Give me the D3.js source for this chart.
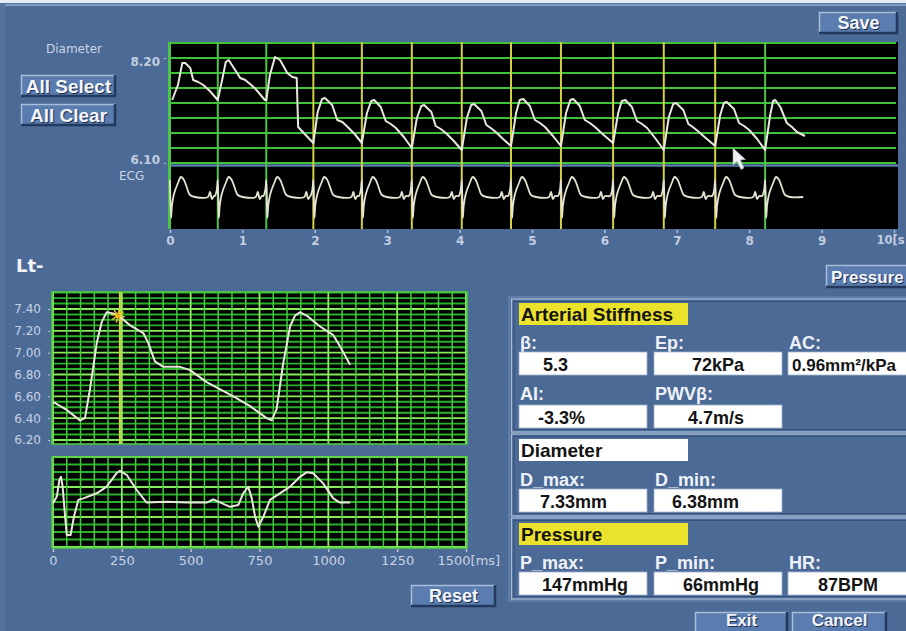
<!DOCTYPE html>
<html><head><meta charset="utf-8">
<script src="https://cdn.jsdelivr.net/npm/d3@7"></script>
<style>
html,body{margin:0;padding:0;background:#4b6a96;overflow:hidden}
svg{display:block}
</style></head><body>
<svg id="c" width="906" height="631"></svg>
<script>
// ---------------- DATA ----------------
// Top trend (10 s): diameter [mm] and ECG
const trendTimeTicks = [0,1,2,3,4,5,6,7,8,9,10];
const trendDiamLabels = [8.20, 6.10];
const trendDiamGrid = [8.50,8.20,7.90,7.60,7.30,7.00,6.70,6.40,6.10];
const beatTimes = [0.00,0.66,1.33,1.98,2.65,3.34,4.03,4.71,5.40,6.12,6.82,7.53,8.22];
const beatSelected = [false,false,false,true,true,true,true,true,true,true,true,true,false];
const trendDiameter = [
 [0.03,7.36],[0.11,7.66],[0.17,8.10],[0.21,8.10],[0.28,8.00],[0.32,7.76],[0.39,7.72],[0.46,7.66],[0.55,7.54],[0.66,7.36],
 [0.72,7.76],[0.77,8.12],[0.81,8.16],[0.90,7.96],[0.97,7.80],[1.04,7.76],[1.17,7.60],[1.31,7.36],
 [1.33,7.36],[1.38,7.86],[1.45,8.22],[1.52,8.16],[1.62,7.90],[1.69,7.82],[1.75,7.80],[1.77,6.82],[1.86,6.68],[1.98,6.50],
 [2.04,7.12],[2.10,7.38],[2.14,7.40],[2.24,7.26],[2.31,6.96],[2.38,6.92],[2.44,6.84],[2.55,6.68],[2.65,6.50],
 [2.72,7.10],[2.78,7.34],[2.82,7.36],[2.91,7.22],[2.98,6.94],[3.05,6.88],[3.12,6.80],[3.23,6.62],[3.34,6.40],
 [3.41,7.00],[3.47,7.24],[3.51,7.26],[3.61,7.12],[3.67,6.84],[3.74,6.78],[3.81,6.70],[3.92,6.54],[4.03,6.36],
 [4.10,7.00],[4.16,7.26],[4.20,7.28],[4.30,7.14],[4.37,6.86],[4.43,6.80],[4.50,6.72],[4.60,6.58],[4.71,6.44],
 [4.78,7.10],[4.83,7.36],[4.88,7.38],[4.97,7.24],[5.04,6.96],[5.11,6.90],[5.18,6.82],[5.29,6.64],[5.40,6.44],
 [5.47,7.10],[5.53,7.36],[5.57,7.38],[5.66,7.24],[5.73,6.96],[5.80,6.90],[5.87,6.82],[5.99,6.66],[6.12,6.50],
 [6.19,7.10],[6.24,7.34],[6.29,7.36],[6.38,7.22],[6.45,6.94],[6.52,6.88],[6.59,6.80],[6.70,6.60],[6.82,6.36],
 [6.89,7.02],[6.95,7.28],[6.99,7.30],[7.09,7.16],[7.16,6.88],[7.22,6.82],[7.29,6.74],[7.40,6.60],[7.53,6.44],
 [7.60,7.06],[7.65,7.30],[7.69,7.32],[7.79,7.18],[7.86,6.90],[7.93,6.84],[8.00,6.76],[8.11,6.58],[8.22,6.36],
 [8.29,7.06],[8.33,7.34],[8.36,7.36],[8.43,7.22],[8.52,6.90],[8.59,6.82],[8.66,6.72],[8.77,6.64]
];
// ECG shape of one beat: [seconds after R, value]
const ecgBeatShape = [
 [-0.041,0.05],[-0.014,0.35],[0.000,0.85],[0.014,-1.05],[0.028,-0.40],[0.055,0.15],[0.110,0.70],
 [0.152,1.00],[0.193,0.85],[0.235,0.45],[0.276,0.10],[0.345,0.00],[0.525,0.00],[0.552,0.25],
 [0.580,-0.10],[0.608,0.05]
];
const trendEcgEnd = 8.77;

// Averaged single beat (0-1500 ms)
const waveMsTicks = [0,250,500,750,1000,1250,1500];
const waveDiamTicks = [7.40,7.20,7.00,6.80,6.60,6.40,6.20];
const waveDiameter = [
 [0,6.55],[50,6.475],[98,6.38],[116,6.40],[134,6.66],[159,7.09],[177,7.28],[195,7.37],[219,7.36],
 [243,7.33],[280,7.25],[328,7.18],[346,7.09],[370,6.92],[401,6.87],[461,6.87],[498,6.84],[558,6.73],
 [655,6.60],[716,6.51],[776,6.40],[794,6.38],[812,6.48],[836,6.90],[861,7.24],[879,7.34],[897,7.37],
 [921,7.34],[970,7.24],[1018,7.16],[1042,7.06],[1079,6.89]
];
const waveEcg = [
 [0,-0.04],[14,0.18],[23,0.73],[29,0.84],[35,0.51],[44,-0.49],[50,-1.10],[64,-1.10],[76,-0.49],
 [92,0.07],[110,0.12],[159,0.29],[195,0.51],[231,0.96],[243,1.04],[268,0.90],[304,0.40],[340,-0.02],
 [413,0.01],[486,-0.02],[558,-0.02],[582,0.09],[600,0.01],[643,-0.16],[673,-0.10],[691,0.29],
 [709,0.51],[722,0.12],[734,-0.49],[746,-0.82],[764,-0.49],[788,0.07],[824,0.29],[861,0.51],
 [897,0.84],[921,0.99],[945,0.96],[981,0.62],[1018,0.12],[1042,-0.02],[1079,-0.02]
];
const cursorMs = 243, cursorDiam = 7.33;

// Results
const stiffLabels = ["β:","Ep:","AC:","AI:","PWVβ:"];
const stiffValues = ["5.3","72kPa","0.96mm²/kPa","-3.3%","4.7m/s"];
const diamLabels = ["D_max:","D_min:"];
const diamValues = ["7.33mm","6.38mm"];
const presLabels = ["P_max:","P_min:","HR:"];
const presValues = ["147mmHg","66mmHg","87BPM"];

// ---------------- DRAW ----------------
const UI = "'Liberation Sans', Arial, Helvetica, sans-serif";
const LB = "'DejaVu Sans', Verdana, sans-serif";
const BG = "#4b6a96";
const svg = d3.select("#c");
svg.append("rect").attr("width",906).attr("height",631).attr("fill",BG);
svg.append("rect").attr("width",906).attr("height",3).attr("fill","#e6ecf4");
svg.append("line").attr("x1",0).attr("x2",906).attr("y1",5).attr("y2",5).attr("stroke","#7e99c3").attr("stroke-width",2.5);
svg.append("rect").attr("x",0).attr("y",3).attr("width",5).attr("height",628).attr("fill","#55739f");

function button(x,y,w,h,label,fs,anchor,tyOverride){
  const g = svg.append("g");
  g.append("rect").attr("x",x).attr("y",y).attr("width",w).attr("height",h).attr("fill","#5a7cae");
  g.append("path").attr("d",`M${x+0.5},${y+h}V${y+0.5}H${x+w}`).attr("fill","none").attr("stroke","#a9bedb").attr("stroke-width",1.5);
  g.append("path").attr("d",`M${x},${y+h-1}H${x+w-1}V${y}`).attr("fill","none").attr("stroke","#233a5e").attr("stroke-width",2.5);
  const tx0 = anchor==="start" ? x+5 : x+w/2;
  const ty0 = tyOverride || (y+h/2+fs*0.36);
  g.append("text").attr("x",tx0+1).attr("y",ty0+1).attr("text-anchor",anchor||"middle")
    .attr("font-family",UI).attr("font-weight","bold").attr("font-size",fs).attr("fill","#1e2f4c").text(label);
  g.append("text").attr("x",tx0).attr("y",ty0).attr("text-anchor",anchor||"middle")
    .attr("font-family",UI).attr("font-weight","bold").attr("font-size",fs).attr("fill","#f4f6fa").text(label);
}

// ---- Top trend chart ----
const tx = d3.scaleLinear().domain([0,10]).range([170,894]);
const tyD = d3.scaleLinear().domain([6.10,8.20]).range([163,58]);
const tyE = d3.scaleLinear().domain([-1.55,1.55]).range([228,166]);
const gt = svg.append("g");
gt.append("rect").attr("x",168).attr("y",42).attr("width",730).attr("height",187).attr("fill","#000");
gt.selectAll(".hg").data(trendDiamGrid).join("line")
  .attr("x1",168).attr("x2",896).attr("y1",d=>tyD(d)).attr("y2",d=>tyD(d))
  .attr("stroke","#3fc13a").attr("stroke-width",2);
gt.append("rect").attr("x",168).attr("y",164.3).attr("width",730).attr("height",2.4).attr("fill","#5a7eb0");
gt.append("line").attr("x1",169).attr("x2",169).attr("y1",42).attr("y2",229).attr("stroke","#4cc448").attr("stroke-width",2);
gt.selectAll(".bl").data(beatTimes).join("line")
  .attr("x1",d=>tx(d)).attr("x2",d=>tx(d)).attr("y1",42).attr("y2",229)
  .attr("stroke",(d,i)=>beatSelected[i]?"#d4cf3e":"#4cc448").attr("stroke-width",2);

const trendEcg = [];
beatTimes.forEach(bt=>{
  ecgBeatShape.forEach(([dt,v])=>{ const t=bt+dt; if(t>=0 && t<=trendEcgEnd) trendEcg.push([t,v]); });
});
trendEcg.sort((a,b)=>a[0]-b[0]);
gt.append("path").attr("d",d3.line().curve(d3.curveCatmullRom.alpha(0.5)).x(d=>tx(d[0])).y(d=>tyE(d[1]))(trendEcg))
  .attr("fill","none").attr("stroke","#e6e4d2").attr("stroke-width",1.8).attr("stroke-linejoin","round");
gt.append("path").attr("d",d3.line().x(d=>tx(d[0])).y(d=>tyD(d[1]))(trendDiameter))
  .attr("fill","none").attr("stroke","#e8e8dc").attr("stroke-width",2).attr("stroke-linejoin","round");

// mouse pointer
gt.append("path").attr("d","M733,148 L733,165 L737,161.5 L741,169.5 L744,168 L740.5,160 L745.5,159.5 Z")
  .attr("fill","#eef0f4").attr("stroke","#9aa4b4").attr("stroke-width",0.6);

// axes for top chart
const axT = svg.append("g").attr("transform","translate(0,229)")
  .call(d3.axisBottom(tx).tickValues(trendTimeTicks).tickSize(3).tickPadding(4)
    .tickFormat(d=> d===10 ? "10[s" : String(d)));
axT.select(".domain").remove();
axT.selectAll(".tick line").attr("stroke","#b8c4d8").attr("stroke-width",1.5).attr("transform","translate(0,1)");
axT.selectAll(".tick text").attr("font-family",LB).attr("font-weight","bold").attr("font-size",12).attr("fill","#c3cde0");
axT.selectAll(".tick text").filter(d=>d===10).attr("text-anchor","start").attr("dx",-18).attr("font-size",11.5);

const ayT = svg.append("g").attr("transform","translate(166,0)")
  .call(d3.axisLeft(tyD).tickValues(trendDiamLabels).tickSize(2).tickPadding(4).tickFormat(d3.format(".2f")));
ayT.select(".domain").remove();
ayT.selectAll(".tick line").attr("stroke","#b8c4d8");
ayT.selectAll(".tick text").attr("font-family",LB).attr("font-weight","bold").attr("font-size",12).attr("fill","#c3cde0")
  .attr("dy",d=> d>7 ? "0.65em" : "0.05em");
svg.append("text").attr("x",46).attr("y",53).attr("font-family",LB).attr("font-size",12).attr("fill","#c8d3e6").text("Diameter");
svg.append("text").attr("x",119).attr("y",180).attr("font-family",LB).attr("font-size",12).attr("fill","#c8d3e6").text("ECG");

button(21,75,95,22,"All Select",19);
button(21,104,95,22,"All Clear",19);
button(819,12,79,22,"Save",18);

// ---- Lower-left single beat ----
svg.append("text").attr("x",16).attr("y",272).attr("font-family",LB).attr("font-weight","bold").attr("font-size",18).attr("fill","#f2f4f8").text("Lt-");
const wx = d3.scaleLinear().domain([0,1500]).range([53,466]);
const wyD = d3.scaleLinear().domain([6.20,7.40]).range([440,309]);
const wyE = d3.scaleLinear().domain([-1.5,1.5]).range([547,457]);
const msGrid = d3.range(0,1501,50);

function gridBox(y0,y1,hVals,isMajorH,yScale){
  const g = svg.append("g");
  g.append("rect").attr("x",52).attr("y",y0).attr("width",415).attr("height",y1-y0).attr("fill","#000");
  g.selectAll(".h").data(hVals).join("line")
    .attr("x1",52).attr("x2",467).attr("y1",d=>yScale(d)).attr("y2",d=>yScale(d))
    .attr("stroke",d=>isMajorH(d)?"#86ec5a":"#2bb02b").attr("stroke-width",d=>isMajorH(d)?1.8:1.9);
  g.selectAll(".v").data(msGrid).join("line")
    .attr("x1",d=>wx(d)).attr("x2",d=>wx(d)).attr("y1",y0).attr("y2",y1)
    .attr("stroke",d=>d%250===0?"#8cf060":"#42cc3c").attr("stroke-width",d=>d%250===0?1.8:1.5);
  g.append("rect").attr("x",52).attr("y",y0).attr("width",415).attr("height",y1-y0)
    .attr("fill","none").attr("stroke","#50d040").attr("stroke-width",1.5);
  return g;
}
const dGrid = d3.range(0,28).map(i=>+(6.20+i*0.05).toFixed(2));
const gD = gridBox(292,444,dGrid,d=>Math.round(d*100)%20===0,wyD);
gD.append("line").attr("x1",wx(cursorMs)).attr("x2",wx(cursorMs)).attr("y1",292).attr("y2",444)
  .attr("stroke","#dcd640").attr("stroke-width",2);
gD.append("path").attr("d",d3.line().x(d=>wx(d[0])).y(d=>wyD(d[1]))(waveDiameter))
  .attr("fill","none").attr("stroke","#e8e8dc").attr("stroke-width",2).attr("stroke-linejoin","round");
// cursor star
const cx = wx(cursorMs)-2, cy = wyD(cursorDiam)-1;
d3.range(0,8).forEach(k=>{
  const a = k*Math.PI/4 + 0.2;
  gD.append("line").attr("x1",cx).attr("y1",cy).attr("x2",cx+7*Math.cos(a)).attr("y2",cy+7*Math.sin(a))
    .attr("stroke","#f0d030").attr("stroke-width",1.4);
});
gD.append("circle").attr("cx",cx).attr("cy",cy).attr("r",2.6).attr("fill","#f2b020");

const ayW = svg.append("g").attr("transform","translate(50,0)")
  .call(d3.axisLeft(wyD).tickValues(waveDiamTicks).tickSize(2).tickPadding(7).tickFormat(d3.format(".2f")));
ayW.select(".domain").remove();
ayW.selectAll(".tick line").attr("stroke","#b8c4d8");
ayW.selectAll(".tick text").attr("font-family",LB).attr("font-size",12).attr("fill","#c8d2e4");

const eGrid = d3.range(0,13).map(i=>-1.5+i*0.25);
const gE = gridBox(457,548,eGrid,d=>Math.abs((d+1.5)%1)<1e-6,wyE);
gE.append("path").attr("d",d3.line().x(d=>wx(d[0])).y(d=>wyE(d[1]))(waveEcg))
  .attr("fill","none").attr("stroke","#e8e8dc").attr("stroke-width",2).attr("stroke-linejoin","round");

const axW = svg.append("g").attr("transform","translate(0,548)")
  .call(d3.axisBottom(wx).tickValues(waveMsTicks).tickSize(3).tickPadding(5)
    .tickFormat(d=> d===1500 ? "1500[ms]" : String(d)));
axW.select(".domain").remove();
axW.selectAll(".tick line").attr("stroke","#b8c4d8").attr("stroke-width",1.5).attr("transform","translate(0,1)");
axW.selectAll(".tick text").attr("font-family",LB).attr("font-size",13).attr("fill","#c8d2e4");
axW.selectAll(".tick text").filter(d=>d===1500).attr("text-anchor","start").attr("dx",-29);

button(411,585,85,22,"Reset",18);
button(826,265,84,23,"Pressure",17,"start");

// ---- Results panel ----
const gp = svg.append("g");
function section(y0,y1){
  gp.append("rect").attr("x",511.5).attr("y",y0).attr("width",400).attr("height",y1-y0)
    .attr("fill","none").attr("stroke","#a8bcd8").attr("stroke-width",1.3);
  gp.append("rect").attr("x",514).attr("y",y0+2.5).attr("width",400).attr("height",y1-y0-5)
    .attr("fill","none").attr("stroke","#34507c").attr("stroke-width",1);
}
gp.append("rect").attr("x",509).attr("y",297).attr("width",410).attr("height",304).attr("fill","none").attr("stroke","#7590ba").attr("stroke-width",1);
section(299,432); section(434,516); section(518,599);

function titleBox(y,label,fill){
  gp.append("rect").attr("x",519).attr("y",y).attr("width",169).attr("height",22).attr("fill",fill);
  gp.append("text").attr("x",521).attr("y",y+18).attr("font-family",UI).attr("font-weight","bold")
    .attr("font-size",19).attr("fill","#141414").text(label);
}
titleBox(303,"Arterial Stiffness","#ebe22c");
titleBox(439,"Diameter","#ffffff");
titleBox(523,"Pressure","#ebe22c");

const colX = [519,654,788];
function field(col,labelY,boxY,label,value,valX,fs){
  gp.append("text").attr("x",colX[col]+1).attr("y",labelY).attr("font-family",UI).attr("font-weight","bold")
    .attr("font-size",18).attr("fill","#eef2f8").text(label);
  gp.append("rect").attr("x",colX[col]).attr("y",boxY).attr("width",col===2?130:128).attr("height",23)
    .attr("fill","#ffffff").attr("stroke","#9fb2cc").attr("stroke-width",0.8);
  gp.append("text").attr("x",valX).attr("y",boxY+18.5).attr("font-family",UI).attr("font-weight","bold")
    .attr("font-size",fs||18).attr("fill","#141414").text(value);
}
field(0,349,352,stiffLabels[0],stiffValues[0],543);
field(1,349,352,stiffLabels[1],stiffValues[1],692);
field(2,349,352,stiffLabels[2],stiffValues[2],792,17);
field(0,400,405,stiffLabels[3],stiffValues[3],538);
field(1,400,405,stiffLabels[4],stiffValues[4],688);
field(0,486,489,diamLabels[0],diamValues[0],540);
field(1,486,489,diamLabels[1],diamValues[1],672);
field(0,569,572,presLabels[0],presValues[0],542);
field(1,569,572,presLabels[1],presValues[1],683);
field(2,569,572,presLabels[2],presValues[2],818);

button(695,612,93,24,"Exit",17,null,626);
button(792,612,95,24,"Cancel",17,null,626);
</script>
</body></html>
